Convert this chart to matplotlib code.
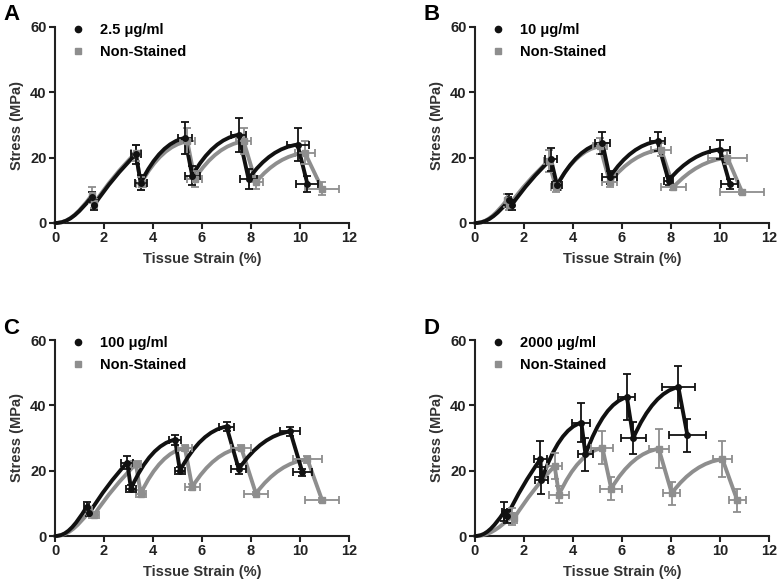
import matplotlib.pyplot as plt
from matplotlib.path import Path
from matplotlib.patches import PathPatch
from matplotlib.lines import Line2D

plt.rcParams['font.family'] = ['Liberation Sans', 'DejaVu Sans']
plt.rcParams['font.weight'] = 'bold'

panel_letters = ['A', 'B', 'C', 'D']
stain_labels = ['2.5 \u03bcg/ml', '10 \u03bcg/ml', '100 \u03bcg/ml', '2000 \u03bcg/ml']
ctrl_label = 'Non-Stained'

# points per panel: peak0, trough0, peak1, trough1, ... peak4, trough4
stain_x = [
    [1.5, 1.6, 3.3, 3.5, 5.3, 5.6, 7.5, 7.9, 9.9, 10.3],
    [1.4, 1.5, 3.1, 3.35, 5.2, 5.5, 7.45, 7.9, 10.0, 10.4],
    [1.3, 1.4, 2.95, 3.1, 4.9, 5.1, 7.0, 7.5, 9.6, 10.1],
    [1.2, 1.3, 2.67, 2.71, 4.34, 4.51, 6.2, 6.46, 8.3, 8.67],
]
stain_y = [
    [8, 5.5, 21, 12.3, 26, 14.5, 27, 13.5, 24, 12],
    [7, 5.5, 19.5, 11.5, 24.5, 14, 25, 13, 22.5, 12],
    [9, 7, 22.5, 14.5, 29.5, 20, 33.5, 20.5, 32, 19.5],
    [7.5, 6, 23.5, 17, 34.7, 25, 42.5, 30, 45.6, 30.8],
]
stain_xerr = [
    [0.05, 0.05, 0.2, 0.25, 0.3, 0.3, 0.3, 0.35, 0.45, 0.45],
    [0.05, 0.05, 0.25, 0.2, 0.3, 0.3, 0.3, 0.2, 0.4, 0.35],
    [0.1, 0.1, 0.25, 0.2, 0.25, 0.2, 0.3, 0.3, 0.4, 0.4],
    [0.1, 0.1, 0.25, 0.25, 0.37, 0.3, 0.35, 0.5, 0.66, 0.76],
]
stain_yerr = [
    [1.5, 1.5, 3, 2.3, 4.8, 3, 5.2, 3, 5, 2.5],
    [2, 1.5, 3.5, 1.5, 3.5, 2, 3, 1.5, 2.8, 1.5],
    [1.5, 1, 2, 1, 1.5, 1, 1.5, 1.5, 1.5, 1],
    [3, 2, 5.5, 4, 6, 5, 7, 5, 6.5, 5],
]
ctrl_x = [
    [1.5, 1.6, 3.3, 3.5, 5.4, 5.7, 7.7, 8.2, 10.2, 10.9],
    [1.3, 1.4, 3.0, 3.3, 5.1, 5.5, 7.6, 8.1, 10.3, 10.9],
    [1.4, 1.6, 3.3, 3.5, 5.3, 5.6, 7.6, 8.2, 10.3, 10.9],
    [1.5, 1.6, 3.25, 3.43, 5.2, 5.56, 7.5, 8.03, 10.1, 10.7],
]
ctrl_y = [
    [8.5, 6, 21.5, 12, 25, 13.5, 25, 12.5, 21.5, 10.5],
    [7, 5.5, 19, 11, 23.5, 12.5, 22.5, 11, 20, 9.5],
    [7.5, 6.5, 22, 13, 27, 15, 27, 13, 23.5, 11],
    [6, 5.5, 21.4, 12.7, 27, 14.5, 26.7, 13.1, 23.5, 11],
]
ctrl_xerr = [
    [0.05, 0.05, 0.2, 0.2, 0.3, 0.3, 0.3, 0.3, 0.4, 0.7],
    [0.05, 0.05, 0.2, 0.2, 0.3, 0.3, 0.4, 0.5, 0.8, 0.9],
    [0.1, 0.2, 0.2, 0.2, 0.3, 0.3, 0.4, 0.5, 0.6, 0.7],
    [0.1, 0.1, 0.3, 0.4, 0.45, 0.45, 0.4, 0.35, 0.4, 0.35],
]
ctrl_yerr = [
    [2.5, 1.5, 2.5, 2, 4, 2.5, 4, 2, 3.5, 2],
    [2, 1.5, 3.5, 1.5, 2.5, 1.5, 2, 1, 2, 0.5],
    [1.5, 1, 1, 1, 1, 0.8, 0.8, 0.5, 1, 0.5],
    [2.5, 1.5, 4, 2.5, 5, 3.5, 6, 3.5, 5.5, 3.5],
]

BLACK = '#111111'
GRAY = '#8e8e8e'


def curve_path(x, y):
    """Toe region from origin, then concave loading curves with straight drops."""
    verts = [(0, 0), (0.35 * x[0], 0), (0.6 * x[0], 0.3 * y[0]), (x[0], y[0])]
    codes = [Path.MOVETO, Path.CURVE4, Path.CURVE4, Path.CURVE4]
    for i in range(1, len(x), 2):
        verts.append((x[i], y[i]))
        codes.append(Path.LINETO)
        if i + 1 < len(x):
            dx = x[i + 1] - x[i]
            dy = y[i + 1] - y[i]
            bow = 0.55 if i == 1 else 0.9
            verts += [(x[i] + 0.45 * dx, y[i] + bow * dy), (x[i + 1], y[i + 1])]
            codes += [Path.CURVE3, Path.CURVE3]
    return Path(verts, codes)


def draw_series(ax, x, y, xerr, yerr, color, marker):
    ax.add_patch(PathPatch(curve_path(x, y), facecolor='none', edgecolor=color,
                           lw=2.8, capstyle='round', joinstyle='round',
                           clip_on=False, zorder=3))
    ax.errorbar(x, y, xerr=xerr, yerr=yerr, fmt=marker, ms=4, color=color,
                ecolor=color, elinewidth=1.3, capsize=3, capthick=1.3,
                clip_on=False, zorder=4)


fig = plt.figure(figsize=(7.82, 5.86), dpi=100)
positions = [
    (55, 27), (475, 27),
    (55, 340), (475, 340),
]
W, H = 782, 586
for k, (px, py) in enumerate(positions):
    ax = fig.add_axes([px / W, 1 - (py + 196) / H, 294 / W, 196 / H])
    draw_series(ax, ctrl_x[k], ctrl_y[k], ctrl_xerr[k], ctrl_yerr[k], GRAY, 's')
    draw_series(ax, stain_x[k], stain_y[k], stain_xerr[k], stain_yerr[k], BLACK, 'o')

    ax.set_xlim(0, 12)
    ax.set_ylim(0, 60)
    ax.set_xticks(range(0, 13, 2))
    ax.set_yticks(range(0, 61, 20))
    for side in ['top', 'right']:
        ax.spines[side].set_visible(False)
    for side in ['left', 'bottom']:
        ax.spines[side].set_linewidth(1.5)
        ax.spines[side].set_color('#222222')
    ax.tick_params(direction='out', length=4, width=1.5, labelsize=10.5,
                   pad=2, colors='#222222')
    ax.set_xlabel('Tissue Strain (%)', fontsize=10.5, fontweight='bold',
                  color='#333333', labelpad=5)
    ax.set_ylabel('Stress (MPa)', fontsize=10.5, fontweight='bold',
                  color='#333333', labelpad=4.5)

    handles = [
        Line2D([], [], ls='none', marker='o', ms=4.5, color=BLACK),
        Line2D([], [], ls='none', marker='s', ms=4.5, color=GRAY),
    ]
    ax.legend(handles, [stain_labels[k], ctrl_label], loc='upper left',
              bbox_to_anchor=(0.01, 1.085), frameon=False, handlelength=1.0,
              handletextpad=1.0, labelspacing=0.5, prop={'size': 10.5, 'weight': 'bold'})

    fig.text((px - 52) / W, 1 - (py - 12) / H, panel_letters[k], fontsize=16,
             fontweight='bold', ha='left', va='center')

fig.savefig('out.png', dpi=100)
